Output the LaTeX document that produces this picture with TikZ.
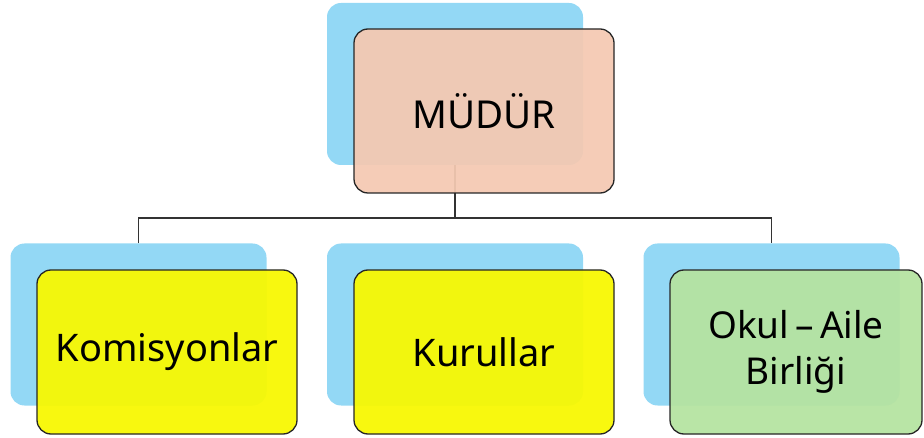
\documentclass[tikz,border=0pt]{standalone}
\usepackage{fontspec}
\setmainfont{Noto Sans}
\definecolor{bl}{HTML}{93D8F5}
\definecolor{peach}{HTML}{F4C9B2}
\definecolor{yel}{HTML}{F8F800}
\definecolor{grn}{HTML}{B5E3A0}
\begin{document}
\begin{tikzpicture}[x=1pt,y=-1pt,
  back/.style={fill=bl, draw=none, rounded corners=14pt, minimum width=256pt, minimum height=162pt, inner sep=0pt, outer sep=0pt},
  front/.style={draw=black!85, line width=1.3pt, rounded corners=14pt, minimum width=260pt, minimum height=164pt, inner sep=0pt, fill opacity=0.94, text opacity=1, align=center},
  conn/.style={draw=black!80, line width=1.2pt}]
\useasboundingbox (0,0) rectangle (924,438);
\node[back] (mb) at (455,84) {};
\node[back] (kb) at (138.5,324.5) {};
\node[back] (ub) at (455,324.5) {};
\node[back] (ob) at (771.5,324.5) {};
\coordinate (bus) at (455,218);
\draw[conn] (mb.south) -- (bus);
\draw[conn] (kb.north) |- (bus) -| (ob.north);
\node[front, fill=peach, font=\fontsize{38.5}{46}\selectfont] (m) at (484,111) {\raisebox{-2pt}{MÜDÜR}};
\node[front, fill=yel, font=\fontsize{38}{46}\selectfont] (k) at (167,352) {\raisebox{-2pt}{Komisyonlar}};
\node[front, fill=yel, font=\fontsize{38}{46}\selectfont] (u) at (484,352) {\raisebox{-2pt}{Kurullar}};
\node[front, fill=grn, minimum width=252pt, font=\fontsize{37}{46}\selectfont] (o) at (796,352) {Okul\,–\,Aile\\Birliği};
\end{tikzpicture}
\end{document}
